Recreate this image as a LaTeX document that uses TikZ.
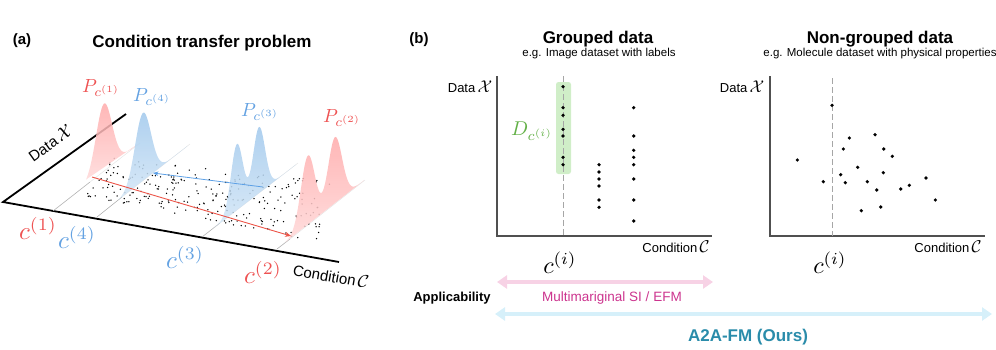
\documentclass[tikz,border=0pt]{standalone}
\usepackage{graphicx}
\usepackage{fontspec}
\setmainfont{Liberation Sans}
\usetikzlibrary{arrows.meta}
\newcommand\myfs[1]{\fontsize{#1}{#1}\selectfont}
\newcommand\mth[2]{\scalebox{#1}{\myfs{10}$#2$}}
\definecolor{pinkC}{RGB}{255,170,170}
\definecolor{blueC}{RGB}{160,200,236}
\definecolor{redT}{RGB}{238,82,82}
\definecolor{blueT}{RGB}{100,162,226}
\definecolor{redA}{RGB}{236,84,72}
\definecolor{blueA}{RGB}{92,160,230}
\definecolor{greenF}{RGB}{208,238,200}
\definecolor{greenT}{RGB}{98,176,70}
\definecolor{pinkArr}{RGB}{247,210,229}
\definecolor{blueArr}{RGB}{214,240,250}
\definecolor{magT}{RGB}{204,52,142}
\definecolor{tealT}{RGB}{42,140,170}
\definecolor{axG}{RGB}{80,80,80}
\begin{document}
\begin{tikzpicture}[x=1pt,y=-1pt,
  declare function={gs(\t,\m,\s)=exp(-0.5*((\t-\m)/\s)*((\t-\m)/\s));},
  every node/.style={inner sep=0pt,outer sep=0pt},
  titlef/.style={font=\myfs{17}\bfseries},
  subf/.style={font=\myfs{11.5}},
  panelf/.style={font=\myfs{15}\bfseries},
  axlab/.style={font=\myfs{13}},
  mainax/.style={line width=1.8pt,black},
  gridln/.style={gray!60,line width=0.6pt},
  gridfaint/.style={gray!20,line width=0.5pt},
  pinkdist/.style={top color=pinkC,bottom color=pinkC!45!white,fill opacity=0.85},
  bluedist/.style={top color=blueC,bottom color=blueC!45!white,fill opacity=0.85},
  redarr/.style={redA,line width=0.9pt,-{Stealth[length=6pt,width=5pt]}},
  bluearr/.style={blueA,line width=0.8pt,-{Stealth[length=5.5pt,width=4.5pt]}},
  axisb/.style={axG,line width=1.2pt},
  dashb/.style={gray!70,line width=0.6pt,dash pattern=on 6pt off 3pt},
  bdot/.style={black},
  widearr/.style={line width=4.5pt,{Triangle[length=10pt,width=13pt]}-{Triangle[length=10pt,width=13pt]}}
]
\useasboundingbox (0,0) rectangle (996,349);

% ---------------- panel (a) ----------------
\node[panelf] (pa) at (22,41) {(a)};
\node[titlef] (ta) at (202,43) {Condition transfer problem};

\coordinate (O) at (3,202);
\coordinate (DX) at (126,114);
\coordinate (DC) at (339,262);
\draw[mainax] (DX) -- (O) -- (DC);

\coordinate (g1a) at (53,211);  \coordinate (g1m) at (90,182);  \coordinate (g1b) at (140,143);
\coordinate (g4a) at (97,217);  \coordinate (g4m) at (122,197); \coordinate (g4b) at (190,144);
\coordinate (g3a) at (202,237); \coordinate (g3m) at (220,223); \coordinate (g3b) at (298,163);
\coordinate (g2a) at (277,249); \coordinate (g2m) at (290,239); \coordinate (g2b) at (365,180);
\draw[gridln] (g1a) -- (g1m);
\draw[gridln] (g4a) -- (g4m);
\draw[gridln] (g3a) -- (g3m);
\draw[gridln] (g2a) -- (g2m);
\draw[gridfaint] (g1m) -- (g1b);
\draw[gridfaint] (g4m) -- (g4b);
\draw[gridfaint] (g3m) -- (g3b);
\draw[gridfaint] (g2m) -- (g2b);

\pgfmathsetseed{11}
\foreach \i in {1,...,260}{
  \pgfmathsetmacro\uu{rnd}
  \pgfmathsetmacro\vv{rnd}
  \pgfmathsetmacro\px{(1-\vv)*((1-\uu)*86+\uu*318)+\vv*((1-\uu)*113+\uu*336)}
  \pgfmathsetmacro\py{(1-\vv)*((1-\uu)*196+\uu*242)+\vv*((1-\uu)*158+\uu*182)}
  \fill[bdot] (\px,\py) circle (0.75pt);
}

\shade[pinkdist] plot[domain=86:137,samples=80] (\x,{211-0.79*(\x-53)-67*gs(\x,104,8)}) -- cycle;
\shade[bluedist] plot[domain=118:187,samples=80] (\x,{217-0.785*(\x-97)-68*gs(\x,143,8)}) -- cycle;
\shade[bluedist] plot[domain=214:296,samples=100] (\x,{237-0.77*(\x-202)-66*gs(\x,237,6)-66*gs(\x,259,6)}) -- cycle;
\shade[pinkdist] plot[domain=285:364,samples=100] (\x,{249-0.79*(\x-277)-69*gs(\x,308,7)-66*gs(\x,335,7)}) -- cycle;

\coordinate (r1) at (92,177);  \coordinate (r2) at (291,236);
\coordinate (b3) at (263,187); \coordinate (b4) at (153,173);
\draw[redarr] (r1) -- (r2);
\draw[bluearr] (b3) -- (b4);

\node[redT] (P1) at (101,88) {\mth{1.9}{P_{c^{(1)}}}};
\node[blueT] (P4) at (152,97) {\mth{1.9}{P_{c^{(4)}}}};
\node[blueT] (P3) at (260,112) {\mth{1.9}{P_{c^{(3)}}}};
\node[redT] (P2) at (342,118) {\mth{1.9}{P_{c^{(2)}}}};

\node[redT] (c1) at (38,228) {\mth{2.5}{c^{(1)}}};
\node[blueT] (c4) at (77,237) {\mth{2.5}{c^{(4)}}};
\node[blueT] (c3) at (185,257) {\mth{2.5}{c^{(3)}}};
\node[redT] (c2) at (263,272) {\mth{2.5}{c^{(2)}}};

\node[font=\myfs{15},rotate=35.6] (dxa) at (50,143) {Data\,\mth{1.8}{\mathcal{X}}};
\node[font=\myfs{15},rotate=-10] (dca) at (331,276) {Condition\,\mth{1.8}{\mathcal{C}}};

% ---------------- panel (b) ----------------
\node[panelf] (pb) at (419,40) {(b)};
\node[titlef] (t1) at (598,39) {Grouped data};
\node[subf] (s1) at (599,54) {e.g. Image dataset with labels};
\node[titlef] (t2) at (880,39) {Non-grouped data};
\node[subf] (s2) at (880,54) {e.g. Molecule dataset with physical properties};

% grouped
\fill[greenF,rounded corners=2.5pt] (556,82) rectangle (571,174);
\coordinate (gy) at (497,76); \coordinate (go) at (497,236); \coordinate (gx) at (712,236);
\draw[axisb] (gy) -- (go) -- (gx);
\coordinate (gd1) at (563,76); \coordinate (gd2) at (563,236);
\draw[dashb] (gd1) -- (gd2);
\foreach \yy in {86.7,107.7,115.3,129.3,136,157.3,164.7}{\fill[bdot] (563,\yy) circle (1.8pt);}
\foreach \yy in {164.7,172,179,186,200,207.3}{\fill[bdot] (599,\yy) circle (1.8pt);}
\foreach \yy in {107.7,136,150.3,157.3,164.7,179,200,221}{\fill[bdot] (633.7,\yy) circle (1.8pt);}
\node[greenT] (dlab) at (532,131) {\mth{2.0}{D_{c^{(i)}}}};
\node[axlab] (gdx) at (470,87) {Data\,\mth{1.7}{\mathcal{X}}};
\node[axlab] (gcc) at (676,247) {Condition\,\mth{1.7}{\mathcal{C}}};
\node (gci) at (560,263) {\mth{2.4}{c^{(i)}}};

% non-grouped
\coordinate (ny) at (770,76); \coordinate (no) at (770,236); \coordinate (nx) at (985,236);
\draw[axisb] (ny) -- (no) -- (nx);
\coordinate (nd1) at (832,78); \coordinate (nd2) at (832,236);
\draw[dashb] (nd1) -- (nd2);
\foreach \xx/\yy in {832/105.3,797.3/160,849.3/138,843.3/149,875/134.7,883.7/149,892.3/156.3,
  857.7/167.3,840.7/174.7,883.3/172.7,823.3/181.7,845.3/182.7,867.3/181.7,876.7/190,900.7/189,
  909.3/185.3,926/178,935.3/200,861.3/210.7,880.7/207}{\fill[bdot] (\xx,\yy) circle (1.8pt);}
\node[axlab] (ndx) at (742,87) {Data\,\mth{1.7}{\mathcal{X}}};
\node[axlab] (ncc) at (948,247) {Condition\,\mth{1.7}{\mathcal{C}}};
\node (nci) at (830,263) {\mth{2.4}{c^{(i)}}};

% ---------------- applicability ----------------
\node[font=\myfs{13}\bfseries] (app) at (452,298) {Applicability};
\coordinate (pk1) at (497,282); \coordinate (pk2) at (713,282);
\draw[widearr,pinkArr] (pk1) -- (pk2);
\node[magT,font=\myfs{13.5}] (mlab) at (612,298) {Multimariginal SI / EFM};
\coordinate (bl1) at (495,314); \coordinate (bl2) at (992,314);
\draw[widearr,blueArr] (bl1) -- (bl2);
\node[tealT,font=\myfs{17}\bfseries] (alab) at (748,337) {A2A-FM (Ours)};
\end{tikzpicture}
\end{document}
